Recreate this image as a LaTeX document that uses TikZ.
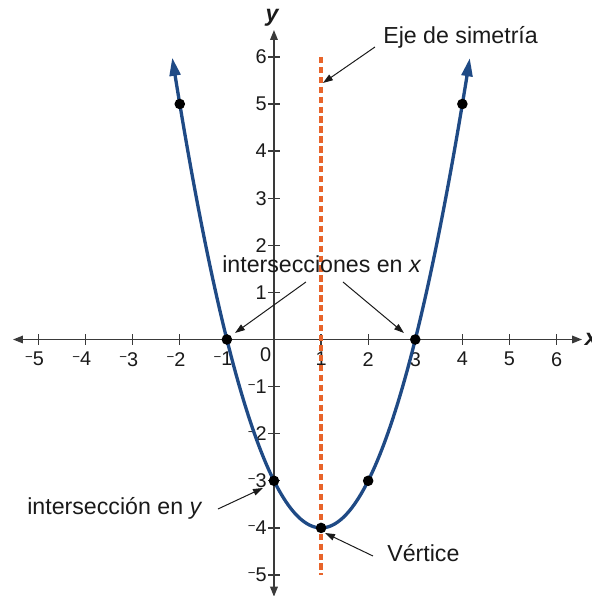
\documentclass[tikz,border=0pt]{standalone}
\usepackage{fontspec}
\setmainfont{Liberation Sans}
\usetikzlibrary{arrows.meta}
\definecolor{curveblue}{HTML}{1F4A85}
\definecolor{symorange}{HTML}{E8642A}
\definecolor{axisgray}{HTML}{3A3A3A}
\definecolor{inkk}{HTML}{1A1A1A}
\newcommand\negnum[1]{\llap{\raisebox{0.42ex}{\fontsize{8}{8}\selectfont −}}#1}
\begin{document}
\begin{tikzpicture}[x=1cm,y=1cm,
  axis/.style={draw=axisgray, line width=0.8pt, {Triangle[length=6pt,width=4.6pt]}-{Triangle[length=6pt,width=4.6pt]}},
  tickmark/.style={draw=axisgray, line width=0.8pt},
  ticklab/.style={font=\fontsize{12}{12}\selectfont, inner sep=0pt, text=inkk},
  axlab/.style={font=\fontsize{14}{14}\selectfont\bfseries\itshape, inner sep=0pt, text=inkk},
  note/.style={font=\fontsize{14}{16}\selectfont, inner sep=0pt, anchor=base west, text=inkk},
  pointer/.style={draw=inkk, line width=0.6pt, -{Triangle[length=6pt,width=4pt]}},
  dot/.style={circle, fill=black, inner sep=0pt, minimum size=6.4pt},
  curve/.style={draw=curveblue, line width=2pt, {Triangle[length=11pt,width=6.5pt]}-{Triangle[length=11pt,width=6.5pt]}},
  symline/.style={draw=symorange, line width=2.4pt, dash pattern=on 3.8pt off 2.2pt},
]
\useasboundingbox (-5.817,-5.446) rectangle (6.752,7.208);

% axes
\coordinate (xl) at (-5.54,0);
\coordinate (xr) at (6.54,0);
\coordinate (yb) at (0,-5.46);
\coordinate (yt) at (0,6.57);
\draw[axis] (xl) -- (xr);
\draw[axis] (yb) -- (yt);
\node[axlab] (xlab) at (6.74,0) {x};
\node[axlab] (ylab) at (-0.04,6.83) {y};

% ticks and labels
\foreach \i in {1,...,6}{
  \draw[tickmark] (\i,-0.11) -- (\i,0.11);
  \draw[tickmark] (-0.12,\i) -- (0.12,\i);
  \node[ticklab, anchor=north] (xt\i) at (\i,-0.265) {\i};
  \node[ticklab, anchor=east] (yt\i) at (-0.149,\i) {\i};
}
\foreach \i in {1,...,5}{
  \draw[tickmark] (-\i,-0.11) -- (-\i,0.11);
  \draw[tickmark] (-0.12,-\i) -- (0.12,-\i);
  \node[ticklab, anchor=north] (xn\i) at (-\i,-0.265) {\negnum{\i}};
  \node[ticklab, anchor=east] (yn\i) at (-0.149,-\i) {\negnum{\i}};
}
\node[ticklab, anchor=north east] (orig) at (-0.05,-0.16) {0};

% parabola
\draw[curve] plot[domain=-2.16:4.16, samples=140, smooth] (\x, {(\x)*(\x)-2*(\x)-3});

% axis of symmetry
\coordinate (st) at (1,6);
\coordinate (sb) at (1,-5);
\draw[symline] (st) -- (sb);

% points
\node[dot] (pa) at (-2,5) {};
\node[dot] (pb) at (4,5) {};
\node[dot] (pc) at (-1,0) {};
\node[dot] (pd) at (3,0) {};
\node[dot] (pe) at (0,-3) {};
\node[dot] (pf) at (2,-3) {};
\node[dot] (pv) at (1,-4) {};

% annotations
\node[note] (eje) at (2.314,6.274) {Eje de simetría};
\node[note] (ix) at (-1.104,1.412) {intersecciones en \textit{x}};
\node[note] (iy) at (-5.244,-3.726) {intersección en \textit{y}};
\node[note] (ver) at (2.399,-4.724) {Vértice};

\coordinate (ejeT) at (2.144,6.210);
\coordinate (ejeH) at (1.040,5.446);
\coordinate (ixLT) at (0.679,1.221);
\coordinate (ixLH) at (-0.828,0.138);
\coordinate (ixRT) at (1.465,1.221);
\coordinate (ixRH) at (2.760,0.138);
\coordinate (iyT) at (-1.189,-3.599);
\coordinate (iyH) at (-0.234,-3.153);
\coordinate (verT) at (2.102,-4.597);
\coordinate (verH) at (1.083,-4.108);

\draw[pointer] (ejeT) -- (ejeH);
\draw[pointer] (ixLT) -- (ixLH);
\draw[pointer] (ixRT) -- (ixRH);
\draw[pointer] (iyT) -- (iyH);
\draw[pointer] (verT) -- (verH);
\end{tikzpicture}
\end{document}
